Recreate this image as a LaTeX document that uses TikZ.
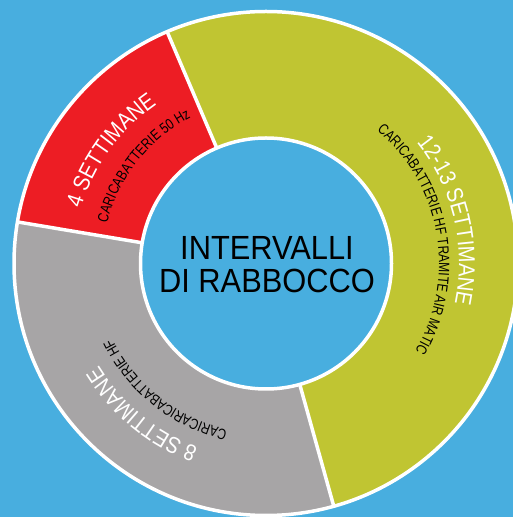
\documentclass[tikz,border=0pt]{standalone}
\usepackage{fontspec}
\setmainfont{Liberation Sans}
\newfontfamily\ringfont[FakeStretch=0.87]{Liberation Sans}
\newfontfamily\smallringfont[FakeStretch=0.8]{Liberation Sans}
\newfontfamily\midfont[FakeStretch=0.92]{Liberation Sans}
\usetikzlibrary{decorations.text}
\definecolor{bgblue}{RGB}{72,174,223}
\definecolor{segred}{RGB}{237,29,36}
\definecolor{seggreen}{RGB}{192,197,50}
\definecolor{seggray}{RGB}{167,165,166}
\newcommand\bigtxt{\ringfont\fontsize{23}{23}\selectfont}
\newcommand\smalltxt{\smallringfont\fontsize{15}{15}\selectfont}
\begin{document}
\begin{tikzpicture}[x=1pt,y=1pt,
  sep/.style={draw=white,line width=3.5pt},
  bigring/.style={decorate,decoration={text along path,text align=center,text color=white,text={|\bigtxt|#1}}},
  smallring/.style={decorate,decoration={text along path,text align=center,text color=black,text={|\smalltxt|#1}}},
  centertext/.style={font=\midfont\fontsize{33.5}{34}\selectfont,anchor=base,text=black,inner sep=0pt}
]
\fill[bgblue] (0,0) rectangle (513,517);
\useasboundingbox (0,0) rectangle (513,517);
\coordinate (C) at (266,253.5);
% segments
\fill[seggreen] (C) -- ([shift={(-74.4:252pt)}]C) arc[start angle=-74.4,end angle=113.1,radius=252pt] -- cycle;
\fill[segred] (C) -- ([shift={(113.1:252pt)}]C) arc[start angle=113.1,end angle=170.5,radius=252pt] -- cycle;
\fill[seggray] (C) -- ([shift={(170.5:252pt)}]C) arc[start angle=170.5,end angle=285.6,radius=252pt] -- cycle;
\draw[white,line width=3.5pt] (C) circle[radius=252pt];
\foreach \a in {113.1,170.5,285.6}
  \draw[sep] ([shift={(\a:125pt)}]C) -- ([shift={(\a:252pt)}]C);
\filldraw[fill=bgblue,draw=white,line width=3.5pt] (C) circle[radius=125.5pt];
% ring texts
\path[bigring={4 SETTIMANE}] ([shift={(213.9:193pt)}]C) arc[start angle=213.9,end angle=73.9,radius=193pt];
\path[smallring={CARICABATTERIE 50 Hz}] ([shift={(211.5:164pt)}]C) arc[start angle=211.5,end angle=71.5,radius=164pt];
\path[bigring={12-13 SETTIMANE}] ([shift={(83.3:193pt)}]C) arc[start angle=83.3,end angle=-56.7,radius=193pt];
\path[smallring={CARICABATTERIE HF TRAMITE AIR MATIC}] ([shift={(89.85:173pt)}]C) arc[start angle=89.85,end angle=-70.15,radius=173pt];
\path[bigring={8 SETTIMANE}] ([shift={(300.6:196pt)}]C) arc[start angle=300.6,end angle=160.6,radius=196pt];
\path[smallring={CARICARICABATTERIE HF}] ([shift={(301.5:171pt)}]C) arc[start angle=301.5,end angle=161.5,radius=171pt];
% centre
\node[centertext] (t1) at (267,257) {INTERVALLI};
\node[centertext] (t2) at (267,224) {DI RABBOCCO};
\end{tikzpicture}
\end{document}
